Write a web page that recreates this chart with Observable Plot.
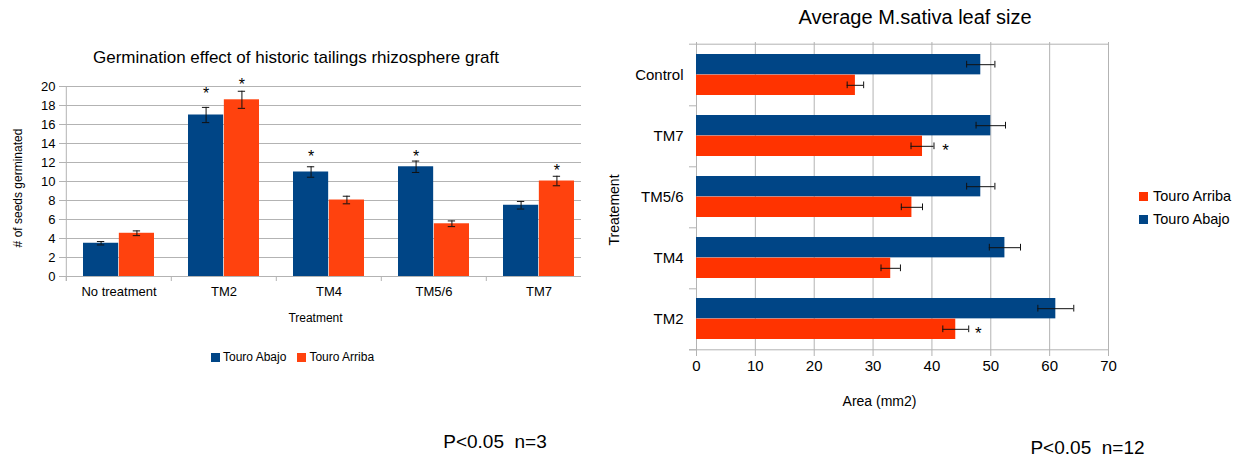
<!DOCTYPE html>
<html>
<head>
<meta charset="utf-8">
<script src="https://cdn.jsdelivr.net/npm/d3@7"></script>
<script src="https://cdn.jsdelivr.net/npm/@observablehq/plot@0.6"></script>
<style>
  html, body { margin: 0; padding: 0; background: #fff; }
  #wrap { position: relative; width: 1244px; height: 461px; background: #fff; overflow: hidden;
          font-family: "Liberation Sans", Arial, sans-serif; color: #000; }
  .abs { position: absolute; }
  .t { position: absolute; white-space: pre; line-height: 1; transform: translate(-50%, -50%); }
  .tr { position: absolute; white-space: pre; line-height: 1; transform: translate(-50%, -50%) rotate(-90deg); }
  .leg { position: absolute; display: flex; align-items: center; line-height: 1; white-space: pre; }
  .sw { display: inline-block; }
</style>
</head>
<body>
<div id="wrap"></div>
<script>
// ---------------- data ----------------
const seriesNames = ["Touro Abajo", "Touro Arriba"];

// Left chart: germination
const catsL = ["No treatment", "TM2", "TM4", "TM5/6", "TM7"];
const abajoL = [3.5, 17.0, 11.0, 11.55, 7.5];
const abajoErrL = [0.18, 0.8, 0.55, 0.6, 0.4];
const arribaL = [4.55, 18.6, 8.05, 5.55, 10.05];
const arribaErrL = [0.25, 0.9, 0.4, 0.3, 0.5];
const abajoStarL = [null, 19.6, 13.0, 13.05, null];
const arribaStarL = [null, 20.55, null, null, 11.5];
const yTicksL = [0, 2, 4, 6, 8, 10, 12, 14, 16, 18, 20];

// Right chart: leaf size
const catsR = ["Control", "TM7", "TM5/6", "TM4", "TM2"];
const abajoR = [48.3, 50.0, 48.3, 52.4, 61.05];
const abajoErrR = [2.4, 2.5, 2.4, 2.65, 3.05];
const arribaR = [27.0, 38.4, 36.6, 33.0, 44.05];
const arribaErrR = [1.4, 1.95, 1.8, 1.65, 2.2];
const arribaStarR = [null, 42.3, null, null, 47.9];
const xTicksR = [0, 10, 20, 30, 40, 50, 60, 70];

// ---------------- styles ----------------
const blue = "#004586";
const orangeL = "#ff420e";
const orangeR = "#ff3300";
const grid = "#b3b3b3";
const errC = "#111";
const font = '"Liberation Sans", Arial, sans-serif';

const wrap = document.getElementById("wrap");
function text(str, x, y, size, rotate = false) {
  const d = document.createElement("div");
  d.className = rotate ? "tr" : "t";
  d.textContent = str;
  d.style.left = x + "px";
  d.style.top = y + "px";
  d.style.fontSize = size + "px";
  wrap.appendChild(d);
  return d;
}

// ---------------- left chart ----------------
const rowsL = catsL.map((c, i) => ({
  cat: c, abajo: abajoL[i], abajoErr: abajoErrL[i], arriba: arribaL[i], arribaErr: arribaErrL[i],
  abajoStar: abajoStarL[i], arribaStar: arribaStarL[i]
}));
const LW = 600, LH = 330, LmL = 65, LmR = 8, LmT = 86, LmB = 54;
const LpadIn = 0.32, LpadOut = 0.16;
const Lstep = (LW - LmL - LmR) / catsL.length;
const Lbw = Lstep * (1 - LpadIn);
const Lhalf = Lbw / 2;
const LcapIn = Lbw / 2 - 4;

const left = Plot.plot({
  width: LW, height: LH,
  marginLeft: LmL, marginRight: LmR, marginTop: LmT, marginBottom: LmB,
  style: { fontFamily: font, color: "#000", background: "transparent", overflow: "visible" },
  x: { type: "band", domain: catsL, paddingInner: LpadIn, paddingOuter: LpadOut },
  y: { domain: [0, 20] },
  marks: [
    Plot.gridY(yTicksL, { stroke: grid, strokeOpacity: 1, insetRight: 11 }),
    Plot.tickX([catsL[0]], { x: d => d, dx: -Lstep / 2, insetBottom: -5, stroke: grid }),
    Plot.tickX(catsL, { x: d => d, dx: -Lstep / 2, insetTop: LH - LmT - LmB, insetBottom: -5, stroke: grid }),
    Plot.barY(rowsL, { x: "cat", y: "abajo", fill: blue, insetRight: Lhalf }),
    Plot.barY(rowsL, { x: "cat", y: "arriba", fill: orangeL, insetLeft: Lhalf }),
    Plot.ruleX(rowsL, { x: "cat", y1: d => d.abajo - d.abajoErr, y2: d => d.abajo + d.abajoErr, dx: -Lhalf / 2, stroke: errC }),
    Plot.tickY(rowsL, { x: "cat", y: d => d.abajo - d.abajoErr, dx: -Lhalf / 2, insetLeft: LcapIn, insetRight: LcapIn, stroke: errC }),
    Plot.tickY(rowsL, { x: "cat", y: d => d.abajo + d.abajoErr, dx: -Lhalf / 2, insetLeft: LcapIn, insetRight: LcapIn, stroke: errC }),
    Plot.ruleX(rowsL, { x: "cat", y1: d => d.arriba - d.arribaErr, y2: d => d.arriba + d.arribaErr, dx: Lhalf / 2, stroke: errC }),
    Plot.tickY(rowsL, { x: "cat", y: d => d.arriba - d.arribaErr, dx: Lhalf / 2, insetLeft: LcapIn, insetRight: LcapIn, stroke: errC }),
    Plot.tickY(rowsL, { x: "cat", y: d => d.arriba + d.arribaErr, dx: Lhalf / 2, insetLeft: LcapIn, insetRight: LcapIn, stroke: errC }),
    Plot.text(rowsL.filter(d => d.abajoStar != null), { x: "cat", y: "abajoStar", text: () => "*", dx: -Lhalf / 2, dy: 4, fontSize: 16, fill: "#000" }),
    Plot.text(rowsL.filter(d => d.arribaStar != null), { x: "cat", y: "arribaStar", text: () => "*", dx: Lhalf / 2, dy: 4, fontSize: 16, fill: "#000" }),
    Plot.axisY({ ticks: yTicksL, tickSize: 6, tickPadding: 4, fontSize: 13, stroke: grid, label: null }),
    Plot.axisX({ tickSize: 0, tickPadding: 10, fontSize: 13, label: null })
  ]
});
left.classList.add("abs");
left.style.left = "0px";
left.style.top = "0px";
wrap.appendChild(left);

text("Germination effect of historic tailings rhizosphere graft", 296, 56.5, 17);
text("# of seeds germinated", 17.5, 188, 12, true);
text("Treatment", 315.5, 317.5, 12);

// left legend
const legL = document.createElement("div");
legL.className = "leg";
legL.style.left = "211px";
legL.style.top = "351px";
legL.style.fontSize = "12px";
legL.style.height = "12px";
[[seriesNames[0], blue], [seriesNames[1], orangeL]].forEach(([n, c], i) => {
  const s = document.createElement("span");
  s.className = "sw";
  s.style.cssText = `width:9px;height:9px;background:${c};margin-right:3px;margin-left:${i ? 11 : 0}px`;
  const t = document.createElement("span");
  t.textContent = n;
  legL.appendChild(s); legL.appendChild(t);
});
wrap.appendChild(legL);

text("P<0.05  n=3", 495, 440.5, 19);

// ---------------- right chart ----------------
const rowsR = catsR.map((c, i) => ({
  cat: c, abajo: abajoR[i], abajoErr: abajoErrR[i], arriba: arribaR[i], arribaErr: arribaErrR[i],
  arribaStar: arribaStarR[i]
}));
const RW = 520, RH = 420, RmL = 96, RmR = 12, RmT = 42, RmB = 70;
const RpadIn = 0.33, RpadOut = 0.165;
const Rstep = (RH - RmT - RmB) / catsR.length;
const Rbw = Rstep * (1 - RpadIn);
const Rhalf = Rbw / 2;
const RcapIn = Rbw / 2 - 3.5;
const RframeW = RW - RmL - RmR;

const right = Plot.plot({
  width: RW, height: RH,
  marginLeft: RmL, marginRight: RmR, marginTop: RmT, marginBottom: RmB,
  style: { fontFamily: font, color: "#000", background: "transparent", overflow: "visible" },
  y: { type: "band", domain: catsR, paddingInner: RpadIn, paddingOuter: RpadOut },
  x: { domain: [0, 70] },
  marks: [
    Plot.gridX(xTicksR, { stroke: grid, strokeOpacity: 1 }),
    Plot.tickY([catsR[0]], { y: d => d, dy: -Rstep / 2, insetLeft: -7, stroke: grid }),
    Plot.tickY([catsR[catsR.length - 1]], { y: d => d, dy: Rstep / 2, insetLeft: -7, stroke: grid }),
    Plot.tickY(catsR, { y: d => d, dy: Rstep / 2, insetLeft: -7, insetRight: RframeW, stroke: grid }),
    Plot.barX(rowsR, { y: "cat", x: "abajo", fill: blue, insetBottom: Rhalf }),
    Plot.barX(rowsR, { y: "cat", x: "arriba", fill: orangeR, insetTop: Rhalf }),
    Plot.ruleY(rowsR, { y: "cat", x1: d => d.abajo - d.abajoErr, x2: d => d.abajo + d.abajoErr, dy: -Rhalf / 2, stroke: errC }),
    Plot.tickX(rowsR, { y: "cat", x: d => d.abajo - d.abajoErr, dy: -Rhalf / 2, insetTop: RcapIn, insetBottom: RcapIn, stroke: errC }),
    Plot.tickX(rowsR, { y: "cat", x: d => d.abajo + d.abajoErr, dy: -Rhalf / 2, insetTop: RcapIn, insetBottom: RcapIn, stroke: errC }),
    Plot.ruleY(rowsR, { y: "cat", x1: d => d.arriba - d.arribaErr, x2: d => d.arriba + d.arribaErr, dy: Rhalf / 2, stroke: errC }),
    Plot.tickX(rowsR, { y: "cat", x: d => d.arriba - d.arribaErr, dy: Rhalf / 2, insetTop: RcapIn, insetBottom: RcapIn, stroke: errC }),
    Plot.tickX(rowsR, { y: "cat", x: d => d.arriba + d.arribaErr, dy: Rhalf / 2, insetTop: RcapIn, insetBottom: RcapIn, stroke: errC }),
    Plot.text(rowsR.filter(d => d.arribaStar != null), { y: "cat", x: "arribaStar", text: () => "*", dy: Rhalf / 2 + 4.5, fontSize: 17, fill: "#000" }),
    Plot.axisX({ ticks: xTicksR, tickSize: 6, tickPadding: 4, fontSize: 15, stroke: grid, label: null }),
    Plot.axisY({ tickSize: 0, tickPadding: 13, fontSize: 15, label: null })
  ]
});
right.classList.add("abs");
right.style.left = "600px";
right.style.top = "0px";
wrap.appendChild(right);

text("Average M.sativa leaf size", 915, 16.5, 20);
text("Treatement", 614, 209.5, 14, true);
text("Area (mm2)", 879.5, 400.5, 14);

// right legend (reversed order, as in reference)
[[seriesNames[1], orangeR], [seriesNames[0], blue]].forEach(([n, c], i) => {
  const row = document.createElement("div");
  row.className = "leg";
  row.style.left = "1139px";
  row.style.top = (189.5 + i * 23) + "px";
  row.style.height = "14px";
  row.style.fontSize = "14.5px";
  const s = document.createElement("span");
  s.className = "sw";
  s.style.cssText = `width:9px;height:9px;background:${c};margin-right:5px`;
  const t = document.createElement("span");
  t.textContent = n;
  row.appendChild(s); row.appendChild(t);
  wrap.appendChild(row);
});

text("P<0.05  n=12", 1087.5, 447, 19);
</script>
</body>
</html>
